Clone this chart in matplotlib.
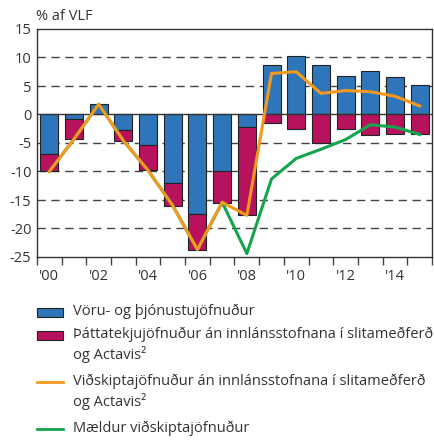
import matplotlib
matplotlib.use("Agg")
import matplotlib.pyplot as plt
from matplotlib.patches import Rectangle
from matplotlib.lines import Line2D
import numpy as np

plt.rcParams['font.family'] = ['Open Sans', 'DejaVu Sans']

years = list(range(2000, 2016))
goods_services = [-7.0, -0.8, 1.8, -2.8, -5.4, -12.0, -17.4, -10.0, -2.2, 8.7, 10.3, 8.7, 6.8, 7.7, 6.6, 5.1]
primary_income = [-3.0, -3.5, 0.0, -1.8, -4.3, -4.0, -6.3, -5.6, -15.5, -1.5, -2.6, -5.0, -2.5, -3.6, -3.4, -3.4]
ca_adjusted = [-10.0, -4.3, 1.8, -4.6, -9.8, -16.0, -23.7, -15.4, -17.7, 7.2, 7.5, 3.7, 4.2, 4.0, 3.2, 1.5]
ca_measured = [-10.0, -4.3, 1.8, -4.6, -9.8, -16.0, -23.7, -15.4, -24.4, -11.3, -7.7, -6.1, -4.4, -1.8, -2.2, -3.5]
xtick_labels = ["'00", "'02", "'04", "'06", "'08", "'10", "'12", "'14"]
yticks = [-25, -20, -15, -10, -5, 0, 5, 10, 15]

labels = ["Vöru- og þjónustujöfnuður",
          "Þáttatekjujöfnuður án innlánsstofnana í slitameðferð\nog Actavis²",
          "Viðskiptajöfnuður án innlánsstofnana í slitameðferð\nog Actavis²",
          "Mældur viðskiptajöfnuður"]

c_blue = "#2F75B9"
c_pink = "#B8125C"
c_orange = "#F4981F"
c_green = "#13A54B"
c_text = "#333333"

W, H = 435, 440
fig = plt.figure(figsize=(W / 100, H / 100), dpi=100)
ax = fig.add_axes([37 / W, 1 - 257 / H, (432 - 37) / W, (257 - 29) / H])

x = np.arange(len(years))
gs = np.array(goods_services)
pi = np.array(primary_income)
bottom_pi = np.where(gs < 0, gs, 0.0)
ax.bar(x, gs, width=0.73, color=c_blue, edgecolor="#222222", linewidth=0.8, zorder=2)
ax.bar(x, pi, bottom=bottom_pi, width=0.73, color=c_pink, edgecolor="#222222", linewidth=0.8, zorder=2)

ax.plot(x, ca_measured, color=c_green, lw=2.2, zorder=3)
ax.plot(x, ca_adjusted, color=c_orange, lw=2.2, zorder=4)

ax.set_xlim(-0.5, len(years) - 0.5)
ax.set_ylim(-25, 15)
ax.set_yticks(yticks)
ax.set_yticklabels([str(v) for v in yticks])
for v in yticks:
    if v in (-25, 15):
        continue
    if v == 0:
        ax.axhline(0, color="#333333", lw=1.0, zorder=2.5)
    else:
        ax.axhline(v, color="#444444", lw=1.0, ls=(0, (6, 4)), zorder=1)

ax.set_xticks(np.arange(-0.5, len(years), 1.0), minor=False)
ax.set_xticklabels([])
ax.set_xticks(x[::2], minor=True)
ax.set_xticklabels(xtick_labels, minor=True)
ax.tick_params(axis='x', which='major', length=6, width=1, color="#444444", direction='out')
ax.tick_params(axis='x', which='minor', length=0, pad=9, labelsize=10.5, labelcolor=c_text)
ax.tick_params(axis='y', length=0, pad=4, labelsize=10.5, labelcolor=c_text)
for s in ax.spines.values():
    s.set_color("#333333")
    s.set_linewidth(1.0)

fig.text(36 / W, 1 - 17 / H, "% af VLF", fontsize=10.5, color=c_text, ha='left', va='center')

# manual legend below the plot
handles = [("patch", c_blue), ("patch", c_pink), ("line", c_orange), ("line", c_green)]
rows_y = [312, 335, 382, 429]
for (kind, col), lab, yy in zip(handles, labels, rows_y):
    if kind == "patch":
        fig.patches.append(Rectangle((37 / W, 1 - (yy + 4.5) / H), 26 / W, 9 / H,
                                     transform=fig.transFigure, facecolor=col,
                                     edgecolor="#222222", linewidth=0.8))
    else:
        fig.lines.append(Line2D([37 / W, 63 / W], [1 - yy / H, 1 - yy / H],
                                transform=fig.transFigure, color=col, lw=2))
    fig.text(73 / W, 1 - (yy - 8) / H, lab, fontsize=10.5, color=c_text,
             ha='left', va='top', linespacing=1.27)

fig.savefig("out.png", dpi=100)
